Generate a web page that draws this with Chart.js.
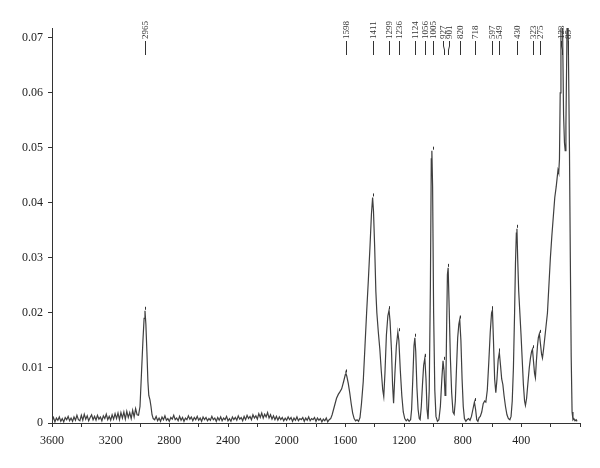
<!DOCTYPE html>
<html>
<head>
<meta charset="utf-8">
<script src="https://cdn.jsdelivr.net/npm/chart.js@4.4.1/dist/chart.umd.min.js"></script>
<style>
  html, body { margin: 0; padding: 0; background: #fff; }
  #spectrum { display: block; }
</style>
</head>
<body>
<canvas id="spectrum" width="600" height="468"></canvas>
<script>
// Raman spectrum: [wavenumber (cm-1), intensity]
const highBaseline = [
  [3600, 0.0004], [3590, 0.0010], [3580, 0.0002], [3570, 0.0009], [3560, 0.0005],
  [3550, 0.0011], [3540, 0.0003], [3530, 0.0008], [3520, 0.0002], [3510, 0.0010],
  [3500, 0.0006], [3490, 0.0012], [3480, 0.0004], [3470, 0.0009], [3460, 0.0003],
  [3450, 0.0011], [3440, 0.0005], [3430, 0.0014], [3420, 0.0006], [3410, 0.0004],
  [3400, 0.0014], [3390, 0.0005], [3380, 0.0016], [3370, 0.0007], [3360, 0.0013],
  [3350, 0.0004], [3340, 0.0010], [3330, 0.0015], [3320, 0.0006], [3310, 0.0012],
  [3300, 0.0005], [3290, 0.0014], [3280, 0.0007], [3270, 0.0011], [3260, 0.0004],
  [3250, 0.0013], [3240, 0.0008], [3230, 0.0016], [3220, 0.0006], [3210, 0.0012],
  [3200, 0.0005], [3190, 0.0015], [3180, 0.0007], [3170, 0.0017], [3160, 0.0008],
  [3150, 0.0018], [3140, 0.0006], [3130, 0.0019], [3120, 0.0009], [3110, 0.0020],
  [3100, 0.0007], [3090, 0.0021], [3080, 0.0010], [3070, 0.0019], [3060, 0.0008],
  [3050, 0.0023], [3040, 0.0011], [3030, 0.0026], [3020, 0.0015]
];
const chStretch = [
  [3010, 0.0014], [3000, 0.0030], [2990, 0.0090], [2980, 0.0150], [2972, 0.0190],
  [2966, 0.0204], [2960, 0.0180], [2953, 0.0130], [2946, 0.0075], [2940, 0.0050],
  [2932, 0.0042], [2925, 0.0030], [2918, 0.0015], [2910, 0.0008]
];
const midBaseline = [
  [2900, 0.0006], [2890, 0.0012], [2880, 0.0004], [2870, 0.0009], [2860, 0.0003],
  [2850, 0.0011], [2840, 0.0006], [2830, 0.0013], [2820, 0.0005], [2810, 0.0008],
  [2800, 0.0003], [2790, 0.0010], [2780, 0.0007], [2770, 0.0014], [2760, 0.0006],
  [2750, 0.0009], [2740, 0.0004], [2730, 0.0012], [2720, 0.0005], [2710, 0.0010],
  [2700, 0.0003], [2690, 0.0009], [2680, 0.0006], [2670, 0.0013], [2660, 0.0007],
  [2650, 0.0011], [2640, 0.0004], [2630, 0.0010], [2620, 0.0006], [2610, 0.0012],
  [2600, 0.0005], [2590, 0.0009], [2580, 0.0003], [2570, 0.0011], [2560, 0.0006],
  [2550, 0.0010], [2540, 0.0004], [2530, 0.0008], [2520, 0.0005], [2510, 0.0012],
  [2500, 0.0006], [2490, 0.0009], [2480, 0.0003], [2470, 0.0010], [2460, 0.0005],
  [2450, 0.0011], [2440, 0.0004], [2430, 0.0009], [2420, 0.0006], [2410, 0.0012],
  [2400, 0.0004], [2390, 0.0008], [2380, 0.0003], [2370, 0.0011], [2360, 0.0006],
  [2350, 0.0010], [2340, 0.0005], [2330, 0.0013], [2320, 0.0007], [2310, 0.0010],
  [2300, 0.0004], [2290, 0.0012], [2280, 0.0006], [2270, 0.0014], [2260, 0.0008],
  [2250, 0.0012], [2240, 0.0006], [2230, 0.0015], [2220, 0.0009], [2210, 0.0013],
  [2200, 0.0007], [2190, 0.0017], [2180, 0.0010], [2170, 0.0018], [2160, 0.0009],
  [2150, 0.0016], [2140, 0.0011], [2130, 0.0019], [2120, 0.0009], [2110, 0.0015],
  [2100, 0.0007], [2090, 0.0013], [2080, 0.0006], [2070, 0.0012], [2060, 0.0005],
  [2050, 0.0011], [2040, 0.0006], [2030, 0.0010], [2020, 0.0004], [2010, 0.0009],
  [2000, 0.0005], [1990, 0.0011], [1980, 0.0006], [1970, 0.0010], [1960, 0.0003],
  [1950, 0.0009], [1940, 0.0005], [1930, 0.0011], [1920, 0.0004], [1910, 0.0008],
  [1900, 0.0006], [1890, 0.0010], [1880, 0.0003], [1870, 0.0009], [1860, 0.0005],
  [1850, 0.0011], [1840, 0.0004], [1830, 0.0008], [1820, 0.0006], [1810, 0.0010],
  [1800, 0.0003], [1790, 0.0009], [1780, 0.0005], [1770, 0.0008], [1760, 0.0002],
  [1750, 0.0007], [1740, 0.0004], [1730, 0.0009], [1720, 0.0002], [1710, 0.0006]
];
const fingerprint = [
  [1700, 0.0008], [1690, 0.0015], [1680, 0.0025], [1670, 0.0035], [1660, 0.0045],
  [1648, 0.0052], [1636, 0.0057], [1625, 0.0062], [1612, 0.0075], [1600, 0.0088],
  [1596, 0.0090], [1590, 0.0085], [1580, 0.0072], [1570, 0.0055], [1560, 0.0035],
  [1550, 0.0018], [1540, 0.0008], [1530, 0.0004], [1520, 0.0006], [1510, 0.0003],
  [1500, 0.0010], [1490, 0.0035], [1478, 0.0075], [1466, 0.0140], [1455, 0.0200],
  [1443, 0.0260], [1432, 0.0320], [1422, 0.0380], [1414, 0.0410], [1408, 0.0385],
  [1400, 0.0320], [1392, 0.0240], [1385, 0.0200], [1375, 0.0165], [1365, 0.0135],
  [1355, 0.0095], [1345, 0.0060], [1338, 0.0048], [1330, 0.0090], [1320, 0.0160],
  [1310, 0.0195], [1302, 0.0205], [1295, 0.0185], [1285, 0.0130], [1278, 0.0070],
  [1271, 0.0036], [1262, 0.0090], [1252, 0.0140], [1242, 0.0165], [1235, 0.0150],
  [1225, 0.0095], [1215, 0.0050], [1205, 0.0020], [1195, 0.0008], [1185, 0.0004],
  [1175, 0.0007], [1165, 0.0003], [1155, 0.0006], [1148, 0.0025], [1140, 0.0080],
  [1132, 0.0140], [1126, 0.0155], [1120, 0.0130], [1112, 0.0065], [1104, 0.0025],
  [1096, 0.0008], [1090, 0.0006], [1082, 0.0030], [1074, 0.0070], [1066, 0.0105],
  [1058, 0.0118], [1050, 0.0080], [1043, 0.0025], [1036, 0.0007], [1028, 0.0060],
  [1020, 0.0250], [1014, 0.0480], [1010, 0.0495], [1005, 0.0430], [998, 0.0200],
  [990, 0.0060], [982, 0.0012], [972, 0.0003], [962, 0.0006], [952, 0.0030],
  [942, 0.0080], [934, 0.0113], [927, 0.0095], [920, 0.0050], [915, 0.0060],
  [910, 0.0160], [904, 0.0270], [899, 0.0282], [892, 0.0210], [884, 0.0120],
  [875, 0.0055], [866, 0.0020], [858, 0.0016], [850, 0.0040], [842, 0.0100],
  [834, 0.0155], [826, 0.0180], [820, 0.0188], [812, 0.0150], [804, 0.0080],
  [796, 0.0030], [788, 0.0008], [778, 0.0003], [770, 0.0006], [760, 0.0008],
  [750, 0.0005], [740, 0.0012], [730, 0.0025], [720, 0.0038], [712, 0.0025],
  [704, 0.0006], [696, 0.0003], [688, 0.0010], [680, 0.0012], [670, 0.0020],
  [660, 0.0035], [650, 0.0040], [642, 0.0038], [632, 0.0060], [622, 0.0110],
  [612, 0.0165], [603, 0.0200], [597, 0.0205], [590, 0.0150], [582, 0.0080],
  [574, 0.0055], [566, 0.0080], [558, 0.0115], [550, 0.0128], [542, 0.0105],
  [534, 0.0080], [526, 0.0070], [518, 0.0050], [508, 0.0030], [498, 0.0015],
  [488, 0.0008], [478, 0.0006]
];
const lowRegion = [
  [470, 0.0012], [462, 0.0040], [454, 0.0100], [446, 0.0200], [440, 0.0290],
  [434, 0.0345], [430, 0.0353], [425, 0.0300], [418, 0.0240], [410, 0.0200],
  [402, 0.0160], [394, 0.0115], [386, 0.0070], [378, 0.0040], [372, 0.0032],
  [364, 0.0045], [356, 0.0070], [346, 0.0100], [338, 0.0118], [330, 0.0130],
  [324, 0.0134], [318, 0.0115], [310, 0.0090], [304, 0.0082], [298, 0.0110],
  [290, 0.0140], [284, 0.0155], [277, 0.0162], [270, 0.0145], [262, 0.0125],
  [256, 0.0118], [248, 0.0135], [240, 0.0155], [232, 0.0175], [222, 0.0200],
  [212, 0.0250], [202, 0.0300], [192, 0.0340], [182, 0.0375], [172, 0.0410],
  [162, 0.0430], [156, 0.0445], [150, 0.0460], [145, 0.0455], [140, 0.0480],
  [135, 0.0600], [130, 0.0720], [126, 0.0780], [123, 0.0800], [118, 0.0700],
  [112, 0.0560], [106, 0.0510], [101, 0.0495], [96, 0.0540], [90, 0.0680],
  [85, 0.0800], [80, 0.0700], [72, 0.0500], [66, 0.0300], [60, 0.0120],
  [54, 0.0020], [48, 0.0006], [42, 0.0008], [34, 0.0004], [26, 0.0006],
  [20, 0.0003]
];

const peakLabels = [2965, 1598, 1411, 1299, 1236, 1124, 1056, 1005, 927, 901,
  820, 718, 597, 549, 430, 323, 275, 123, 85];
const xTickLabels = [3600, 3200, 2800, 2400, 2000, 1600, 1200, 800, 400];
const yTickLabels = [0, 0.01, 0.02, 0.03, 0.04, 0.05, 0.06, 0.07];

const spectrum = [].concat(highBaseline, chStretch, midBaseline, fingerprint, lowRegion);
const ink = "#333";
const serif = "'Liberation Serif', 'DejaVu Serif', serif";

// peak labels above the plot, rotated, with a short leader line
const peakLabelPlugin = {
  id: "peakLabels",
  afterDraw(chart) {
    const ctx = chart.ctx;
    const xs = chart.scales.x;
    const ys = chart.scales.y;
    let items = peakLabels.map((v) => ({ v: v, px: xs.getPixelForValue(v) }));
    items.sort((a, b) => a.px - b.px);
    items.forEach((it) => (it.tx = it.px));
    // push apart labels that would overlap
    const gap = 6.5;
    for (let k = 0; k < 4; k++) {
      for (let i = 1; i < items.length; i++) {
        const d = items[i].tx - items[i - 1].tx;
        if (d < gap) {
          const s = (gap - d) / 2;
          items[i - 1].tx -= s;
          items[i].tx += s;
        }
      }
    }
    ctx.save();
    ctx.strokeStyle = ink;
    ctx.fillStyle = ink;
    ctx.lineWidth = 1;
    ctx.font = "9px " + serif;
    items.forEach((it) => {
      const tx = Math.round(it.tx) + 0.5;
      const px = Math.round(it.px) + 0.5;
      ctx.beginPath();
      if (Math.abs(tx - px) < 1) {
        ctx.moveTo(px, 41);
        ctx.lineTo(px, 55);
      } else {
        ctx.moveTo(tx, 41);
        ctx.lineTo(tx, 46);
        ctx.lineTo(px, 50);
        ctx.lineTo(px, 55);
      }
      ctx.stroke();
      ctx.save();
      ctx.translate(tx, 39);
      ctx.rotate(-Math.PI / 2);
      ctx.textAlign = "left";
      ctx.textBaseline = "middle";
      ctx.fillText(String(it.v), 0, 0);
      ctx.restore();

      // small mark just above the peak maximum
      let best = 0;
      spectrum.forEach(([x, y]) => {
        if (Math.abs(x - it.v) <= 8 && y > best) best = y;
      });
      if (best > 0 && best < ys.max - 0.002) {
        const py = ys.getPixelForValue(best);
        ctx.beginPath();
        ctx.moveTo(px, py - 1);
        ctx.lineTo(px, py - 4);
        ctx.stroke();
      }
    });
    ctx.restore();
  },
};

new Chart(document.getElementById("spectrum"), {
  type: "line",
  data: {
    datasets: [
      {
        data: spectrum.map(([x, y]) => ({ x: x, y: y })),
        borderColor: "#3f3f3f",
        borderWidth: 1.2,
        pointRadius: 0,
        tension: 0,
        fill: false,
      },
    ],
  },
  options: {
    responsive: false,
    animation: false,
    layout: { padding: { left: 0, right: 20, top: 28, bottom: 0 } },
    plugins: { legend: { display: false }, tooltip: { enabled: false } },
    scales: {
      x: {
        type: "linear",
        reverse: true,
        min: 0,
        max: 3600,
        afterFit: (s) => { s.height = 45; },
        border: { display: true, color: ink, width: 1 },
        grid: { display: true, drawOnChartArea: false, drawTicks: true, tickLength: 4, color: ink },
        ticks: {
          stepSize: 200,
          maxTicksLimit: 100,
          autoSkip: false,
          maxRotation: 0,
          padding: 7,
          color: "#222",
          font: { family: serif, size: 12 },
          callback: (v) => (xTickLabels.includes(v) ? String(v) : ""),
        },
      },
      y: {
        min: 0,
        max: 0.0718,
        afterFit: (s) => { s.width = 52; },
        border: { display: true, color: ink, width: 1 },
        grid: { display: true, drawOnChartArea: false, drawTicks: true, tickLength: 4, color: ink },
        ticks: {
          stepSize: 0.01,
          includeBounds: false,
          padding: 5,
          color: "#222",
          font: { family: serif, size: 12 },
          callback: (v) => {
            const t = yTickLabels.find((u) => Math.abs(u - v) < 1e-6);
            if (t === undefined) return "";
            return t === 0 ? "0" : t.toFixed(2);
          },
        },
      },
    },
  },
  plugins: [peakLabelPlugin],
});
</script>
</body>
</html>
